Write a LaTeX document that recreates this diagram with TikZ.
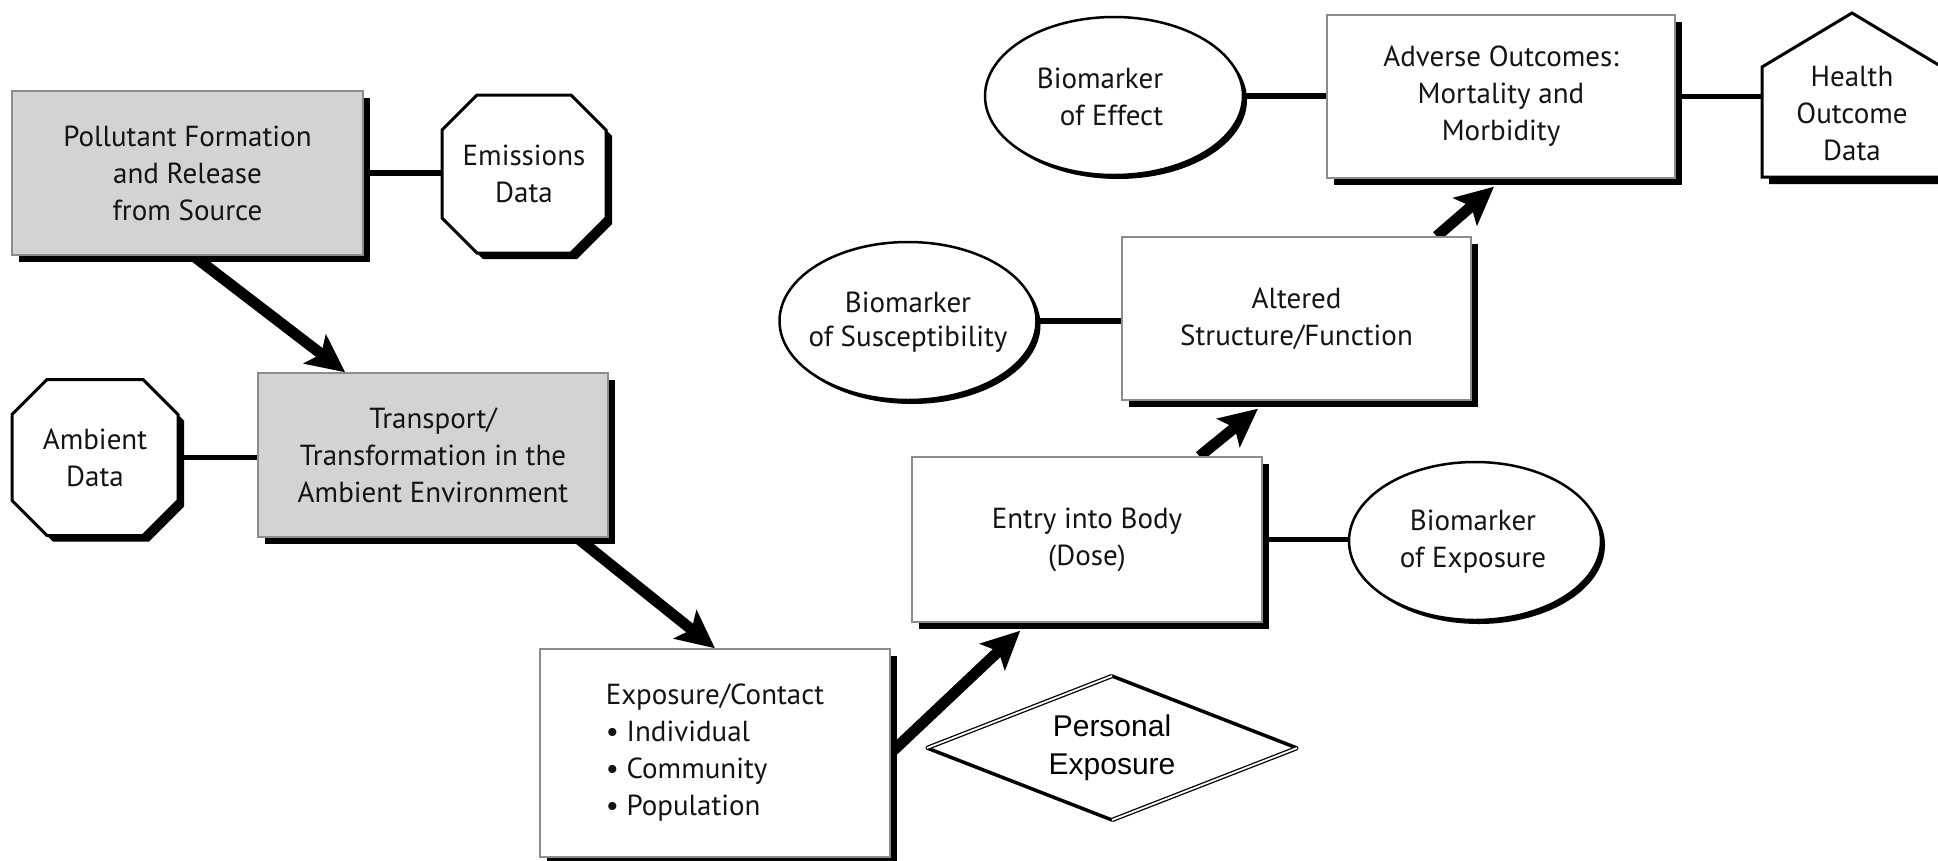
\documentclass[tikz,border=0pt]{standalone}
\usepackage{fontspec}
\newfontfamily\mfont{PT Sans}
\newfontfamily\afont{Liberation Sans}
\usetikzlibrary{calc,arrows.meta,shapes.geometric,shadows}
\definecolor{boxgray}{HTML}{D3D3D3}
\definecolor{txt}{HTML}{141414}
\pgfdeclarelayer{back}
\pgfdeclarelayer{bg}
\pgfsetlayers{back,bg,main}
\newcommand{\octshape}[5]{%
  \path[#5] ($(#1)+(-#2+#4,-#3)$) -- ($(#1)+(#2-#4,-#3)$) -- ($(#1)+(#2,-#3+#4)$) -- ($(#1)+(#2,#3-#4)$)
   -- ($(#1)+(#2-#4,#3)$) -- ($(#1)+(-#2+#4,#3)$) -- ($(#1)+(-#2,#3-#4)$) -- ($(#1)+(-#2,-#3+#4)$) -- cycle;}
\newcommand{\pentshape}[2]{%
  \path[#2] ($(#1)+(-90,-47)$) -- ($(#1)+(0,-101)$) -- ($(#1)+(90,-47)$) -- ($(#1)+(90,63)$) -- ($(#1)+(-90,63)$) -- cycle;}
\begin{document}
\begin{tikzpicture}[x=1pt,y=-1pt,
  lbl/.style={font=\mfont\fontsize{29}{37}\selectfont, text=txt, align=center, inner sep=0pt},
  box/.style={lbl, rectangle, draw=black!45, line width=1.4pt, fill=white,
     drop shadow={shadow xshift=7pt, shadow yshift=-7pt, opacity=1, fill=black}},
  graybox/.style={box, fill=boxgray},
  oval/.style={ellipse, draw=black, line width=2.5pt, fill=white, inner sep=0pt,
     drop shadow={shadow xshift=4pt, shadow yshift=-4pt, opacity=1, fill=black}},
  link/.style={line width=5.5pt},
  flow/.style={line width=11pt, -{Stealth[length=38pt,width=36pt,inset=8pt]}},
  octline/.style={fill=white, draw=black, line width=3pt},
  dbl/.style={double, line width=1.3pt, double distance=1.8pt},
  thk/.style={line width=3.5pt, line cap=round}
]
\useasboundingbox (0,0) rectangle (1938,860);
\begin{pgfonlayer}{back}
  \fill[white] (0,0) rectangle (1938,860);
\end{pgfonlayer}

% boxes
\node[graybox, minimum width=351pt, minimum height=164pt] (poll) at (187.5,173) {Pollutant Formation\\and Release\\from Source};
\node[graybox, minimum width=350pt, minimum height=164pt] (trans) at (433,455) {Transport/\\Transformation in the\\Ambient Environment};
\node[box, align=left, minimum width=350pt, minimum height=208pt] (expo) at (715,753) {Exposure/Contact\\• Individual\\• Community\\• Population};
\node[box, minimum width=350pt, minimum height=165pt] (entry) at (1087,539.5) {Entry into Body\\(Dose)};
\node[box, minimum width=349pt, minimum height=163pt] (alt) at (1296.5,318.5) {Altered\\Structure/Function};
\node[box, minimum width=348pt, minimum height=163pt] (adv) at (1501,96.5) {Adverse Outcomes:\\Mortality and\\Morbidity};

% ellipses
\node[oval, minimum width=258pt, minimum height=158pt] (eff) at (1114,96) {};
\node[lbl, align=right] (efft) at (1100,97) {Biomarker\\of Effect};
\node[oval, minimum width=257pt, minimum height=158pt] (sus) at (908,321) {};
\node[lbl, font=\mfont\fontsize{29}{34}\selectfont] (sust) at (908,322) {Biomarker\\of Susceptibility};
\node[oval, minimum width=252pt, minimum height=158pt] (bexp) at (1475,541) {};
\node[lbl] (bexpt) at (1473,542) {Biomarker\\of Exposure};

% octagons
\coordinate (emisc) at (524,174);
\coordinate (emiss) at (530,180);
\octshape{emiss}{82}{79}{35}{fill=black}
\octshape{emisc}{82}{79}{35}{octline}
\node[lbl, minimum width=164pt, minimum height=158pt] (emis) at (emisc) {Emissions\\Data};

\coordinate (ambc) at (95,457.5);
\coordinate (ambs) at (101,463.5);
\octshape{ambs}{83}{78}{35}{fill=black}
\octshape{ambc}{83}{78}{35}{octline}
\node[lbl, minimum width=166pt, minimum height=156pt] (amb) at (ambc) {Ambient\\Data};

% pentagon
\coordinate (hdc) at (1852,114);
\coordinate (hds) at (1859,121);
\pentshape{hds}{fill=black}
\pentshape{hdc}{fill=white, draw=black, line width=3pt}
\node[lbl, minimum width=180pt] (hd) at (hdc) {Health\\Outcome\\Data};

% diamond
\coordinate (pec) at (1112,748);
\fill[white] ($(pec)+(-185,0)$) -- ($(pec)+(0,-72)$) -- ($(pec)+(185,0)$) -- ($(pec)+(0,72)$) -- cycle;
\draw[thk] ($(pec)+(0,-72)$) -- ($(pec)+(185,0)$);
\draw[thk] ($(pec)+(0,72)$) -- ($(pec)+(-185,0)$);
\draw[dbl] ($(pec)+(-185,0)$) -- ($(pec)+(0,-72)$);
\draw[dbl] ($(pec)+(185,0)$) -- ($(pec)+(0,72)$);
\node[font=\afont\fontsize{30}{38}\selectfont, align=center, inner sep=0pt] (pe) at (pec) {Personal\\Exposure};

\begin{pgfonlayer}{bg}
  \draw[link] (poll.east) -- (poll.east -| emis.west);
  \draw[link] (amb.east) -- (amb.east -| trans.west);
  \draw[link] (sus.east) -- (sus.east -| alt.west);
  \draw[link] (eff.east) -- (eff.east -| adv.west);
  \draw[link] (adv.east) -- (adv.east -| hd.west);
  \draw[link] (entry.east) -- (entry.east -| bexp.west);

  \draw[flow] ($(poll.south west)!0.516!(poll.south east)$) -- ($(trans.north west)!0.25!(trans.north east)$);
  \draw[flow] ($(trans.south west)!0.91!(trans.south east)$) -- ($(expo.north west)!0.5!(expo.north east)$);
  \draw[flow] (expo.east) -- ($($(entry.south west)!0.31!(entry.south east)$)+(0,8)$);
  \draw[flow] ($(entry.north west)!0.82!(entry.north east)$) -- ($($(alt.south west)!0.39!(alt.south east)$)+(0,8)$);
  \draw[flow] ($(alt.north west)!0.9!(alt.north east)$) -- ($($(adv.south west)!0.48!(adv.south east)$)+(0,8)$);
\end{pgfonlayer}
\end{tikzpicture}
\end{document}
